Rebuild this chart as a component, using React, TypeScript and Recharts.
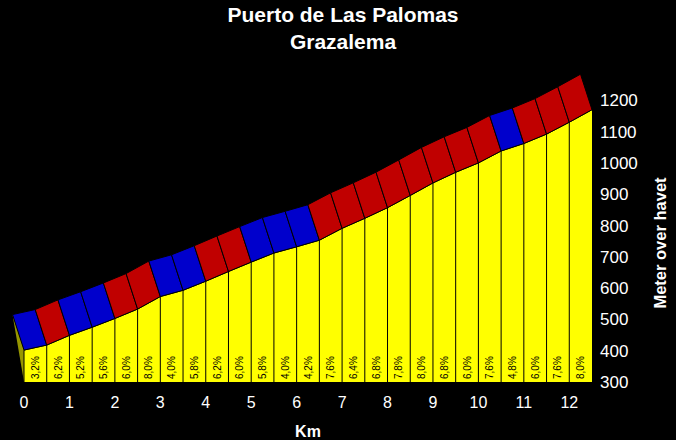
import React from "react";
import { ComposedChart, Area, XAxis, YAxis, ReferenceLine } from "recharts";

// profile points every 500 m
const km = [
  0, 0.5, 1, 1.5, 2, 2.5, 3, 3.5, 4, 4.5, 5, 5.5, 6, 6.5, 7, 7.5, 8, 8.5, 9,
  9.5, 10, 10.5, 11, 11.5, 12, 12.5,
];
const elevation = [
  402, 418, 449, 475, 503, 533, 573, 593, 622, 653, 683, 712, 732, 753, 791,
  823, 857, 896, 936, 970, 1000, 1038, 1062, 1092, 1130, 1170,
];
// gradient of each 500 m segment
const gradients = [
  3.2, 6.2, 5.2, 5.6, 6.0, 8.0, 4.0, 5.8, 6.2, 6.0, 5.8, 4.0, 4.2, 7.6, 6.4,
  6.8, 7.8, 8.0, 6.8, 6.0, 7.6, 4.8, 6.0, 7.6, 8.0,
];
const xTicks = [0, 1, 2, 3, 4, 5, 6, 7, 8, 9, 10, 11, 12];
const yTicks = [300, 400, 500, 600, 700, 800, 900, 1000, 1100, 1200];

const data = km.map((k, i) => ({ km: k, elevation: elevation[i] }));

const FONT = "'Liberation Sans', Arial, sans-serif";
const YELLOW = "#FFFF00";
const RED = "#C00000";
const BLUE = "#0000CC";
const OLIVE = "#969600";
// 3D depth of the top band, in pixels
const DX = -11.5;
const DY = -35.5;

const bandShape = (grad: number) => (props: any) => {
  const { x1, y1, x2, y2 } = props;
  const pts = `${x1},${y1} ${x2},${y2} ${x2 + DX},${y2 + DY} ${x1 + DX},${y1 + DY}`;
  return (
    <polygon
      points={pts}
      fill={grad < 6 ? BLUE : RED}
      stroke="#000"
      strokeWidth={1}
    />
  );
};

const dividerShape = (first: boolean) => (props: any) => {
  const { x1, y1, x2, y2 } = props;
  return (
    <g>
      {first && (
        <polygon
          points={`${x2 + DX},${y2 + DY} ${x2},${y2} ${x1},${y1}`}
          fill={OLIVE}
        />
      )}
      <line x1={x1} y1={y1} x2={x2} y2={y2} stroke="#000" strokeWidth={1} />
    </g>
  );
};

const gradeLabel = (grad: number) => (props: any) => {
  const { x1, y1, x2 } = props;
  const cx = (x1 + x2) / 2;
  const cy = y1 - 3;
  return (
    <text
      x={cx}
      y={cy}
      transform={`rotate(-90 ${cx} ${cy})`}
      textAnchor="start"
      dominantBaseline="central"
      fontSize={10}
      fontFamily={FONT}
      fill="#000"
    >
      {grad.toFixed(1).replace(".", ",") + "%"}
    </text>
  );
};

const YLabel = (props: any) => {
  const { viewBox } = props;
  const x = viewBox.x + 68;
  const y = 243;
  return (
    <text
      x={x}
      y={y}
      transform={`rotate(-90 ${x} ${y})`}
      textAnchor="middle"
      dominantBaseline="central"
      fontSize={16.5}
      fontWeight="bold"
      fontFamily={FONT}
      fill="#fff"
    >
      Meter over havet
    </text>
  );
};

const App = () => {
  return (
    <div
      style={{
        position: "absolute",
        left: 0,
        top: 0,
        width: 676,
        height: 440,
        background: "#000",
        fontFamily: FONT,
      }}
    >
      {/* Title */}
      <div
        style={{
          position: "absolute",
          left: 0,
          top: 1,
          width: 686,
          textAlign: "center",
          color: "#fff",
          fontWeight: "bold",
          fontSize: 21,
          lineHeight: "27px",
        }}
      >
        <div>Puerto de Las Palomas</div>
        <div>Grazalema</div>
      </div>

      <ComposedChart
        width={676}
        height={440}
        data={data}
        margin={{ top: 69, right: 0, left: 24, bottom: 0 }}
      >
        <XAxis
          dataKey="km"
          type="number"
          domain={[0, 12.5]}
          ticks={xTicks}
          height={58}
          axisLine={false}
          tickLine={false}
          tickMargin={9}
          tick={{ fill: "#fff", fontSize: 16, fontFamily: FONT }}
          interval={0}
          label={{
            value: "Km",
            position: "insideBottom",
            offset: 3,
            fill: "#fff",
            fontSize: 16,
            fontWeight: "bold",
            fontFamily: FONT,
          }}
        />
        <YAxis
          orientation="right"
          type="number"
          domain={[300, 1300]}
          ticks={yTicks}
          width={84}
          axisLine={false}
          tickLine={false}
          tick={{ fill: "#fff", fontSize: 17, fontFamily: FONT, textAnchor: "start" }}
          interval={0}
          label={<YLabel />}
        />

        {/* Profile */}
        <Area
          type="linear"
          dataKey="elevation"
          fill={YELLOW}
          fillOpacity={1}
          stroke="#000"
          strokeWidth={1}
          isAnimationActive={false}
          dot={false}
          activeDot={false}
        />

        {/* Segment dividers */}
        {km.slice(0, -1).map((k, i) => (
          <ReferenceLine
            key={`d${i}`}
            segment={[
              { x: k, y: 300 },
              { x: k, y: elevation[i] },
            ]}
            ifOverflow="visible"
            shape={dividerShape(i === 0)}
          />
        ))}

        {/* Gradient labels */}
        {gradients.map((g, i) => (
          <ReferenceLine
            key={`l${i}`}
            segment={[
              { x: km[i], y: 300 },
              { x: km[i + 1], y: 300 },
            ]}
            ifOverflow="visible"
            shape={gradeLabel(g)}
          />
        ))}

        {/* 3D top band */}
        {gradients.map((g, i) => (
          <ReferenceLine
            key={`b${i}`}
            segment={[
              { x: km[i], y: elevation[i] },
              { x: km[i + 1], y: elevation[i + 1] },
            ]}
            ifOverflow="visible"
            shape={bandShape(g)}
          />
        ))}
      </ComposedChart>
    </div>
  );
};

export default App;
